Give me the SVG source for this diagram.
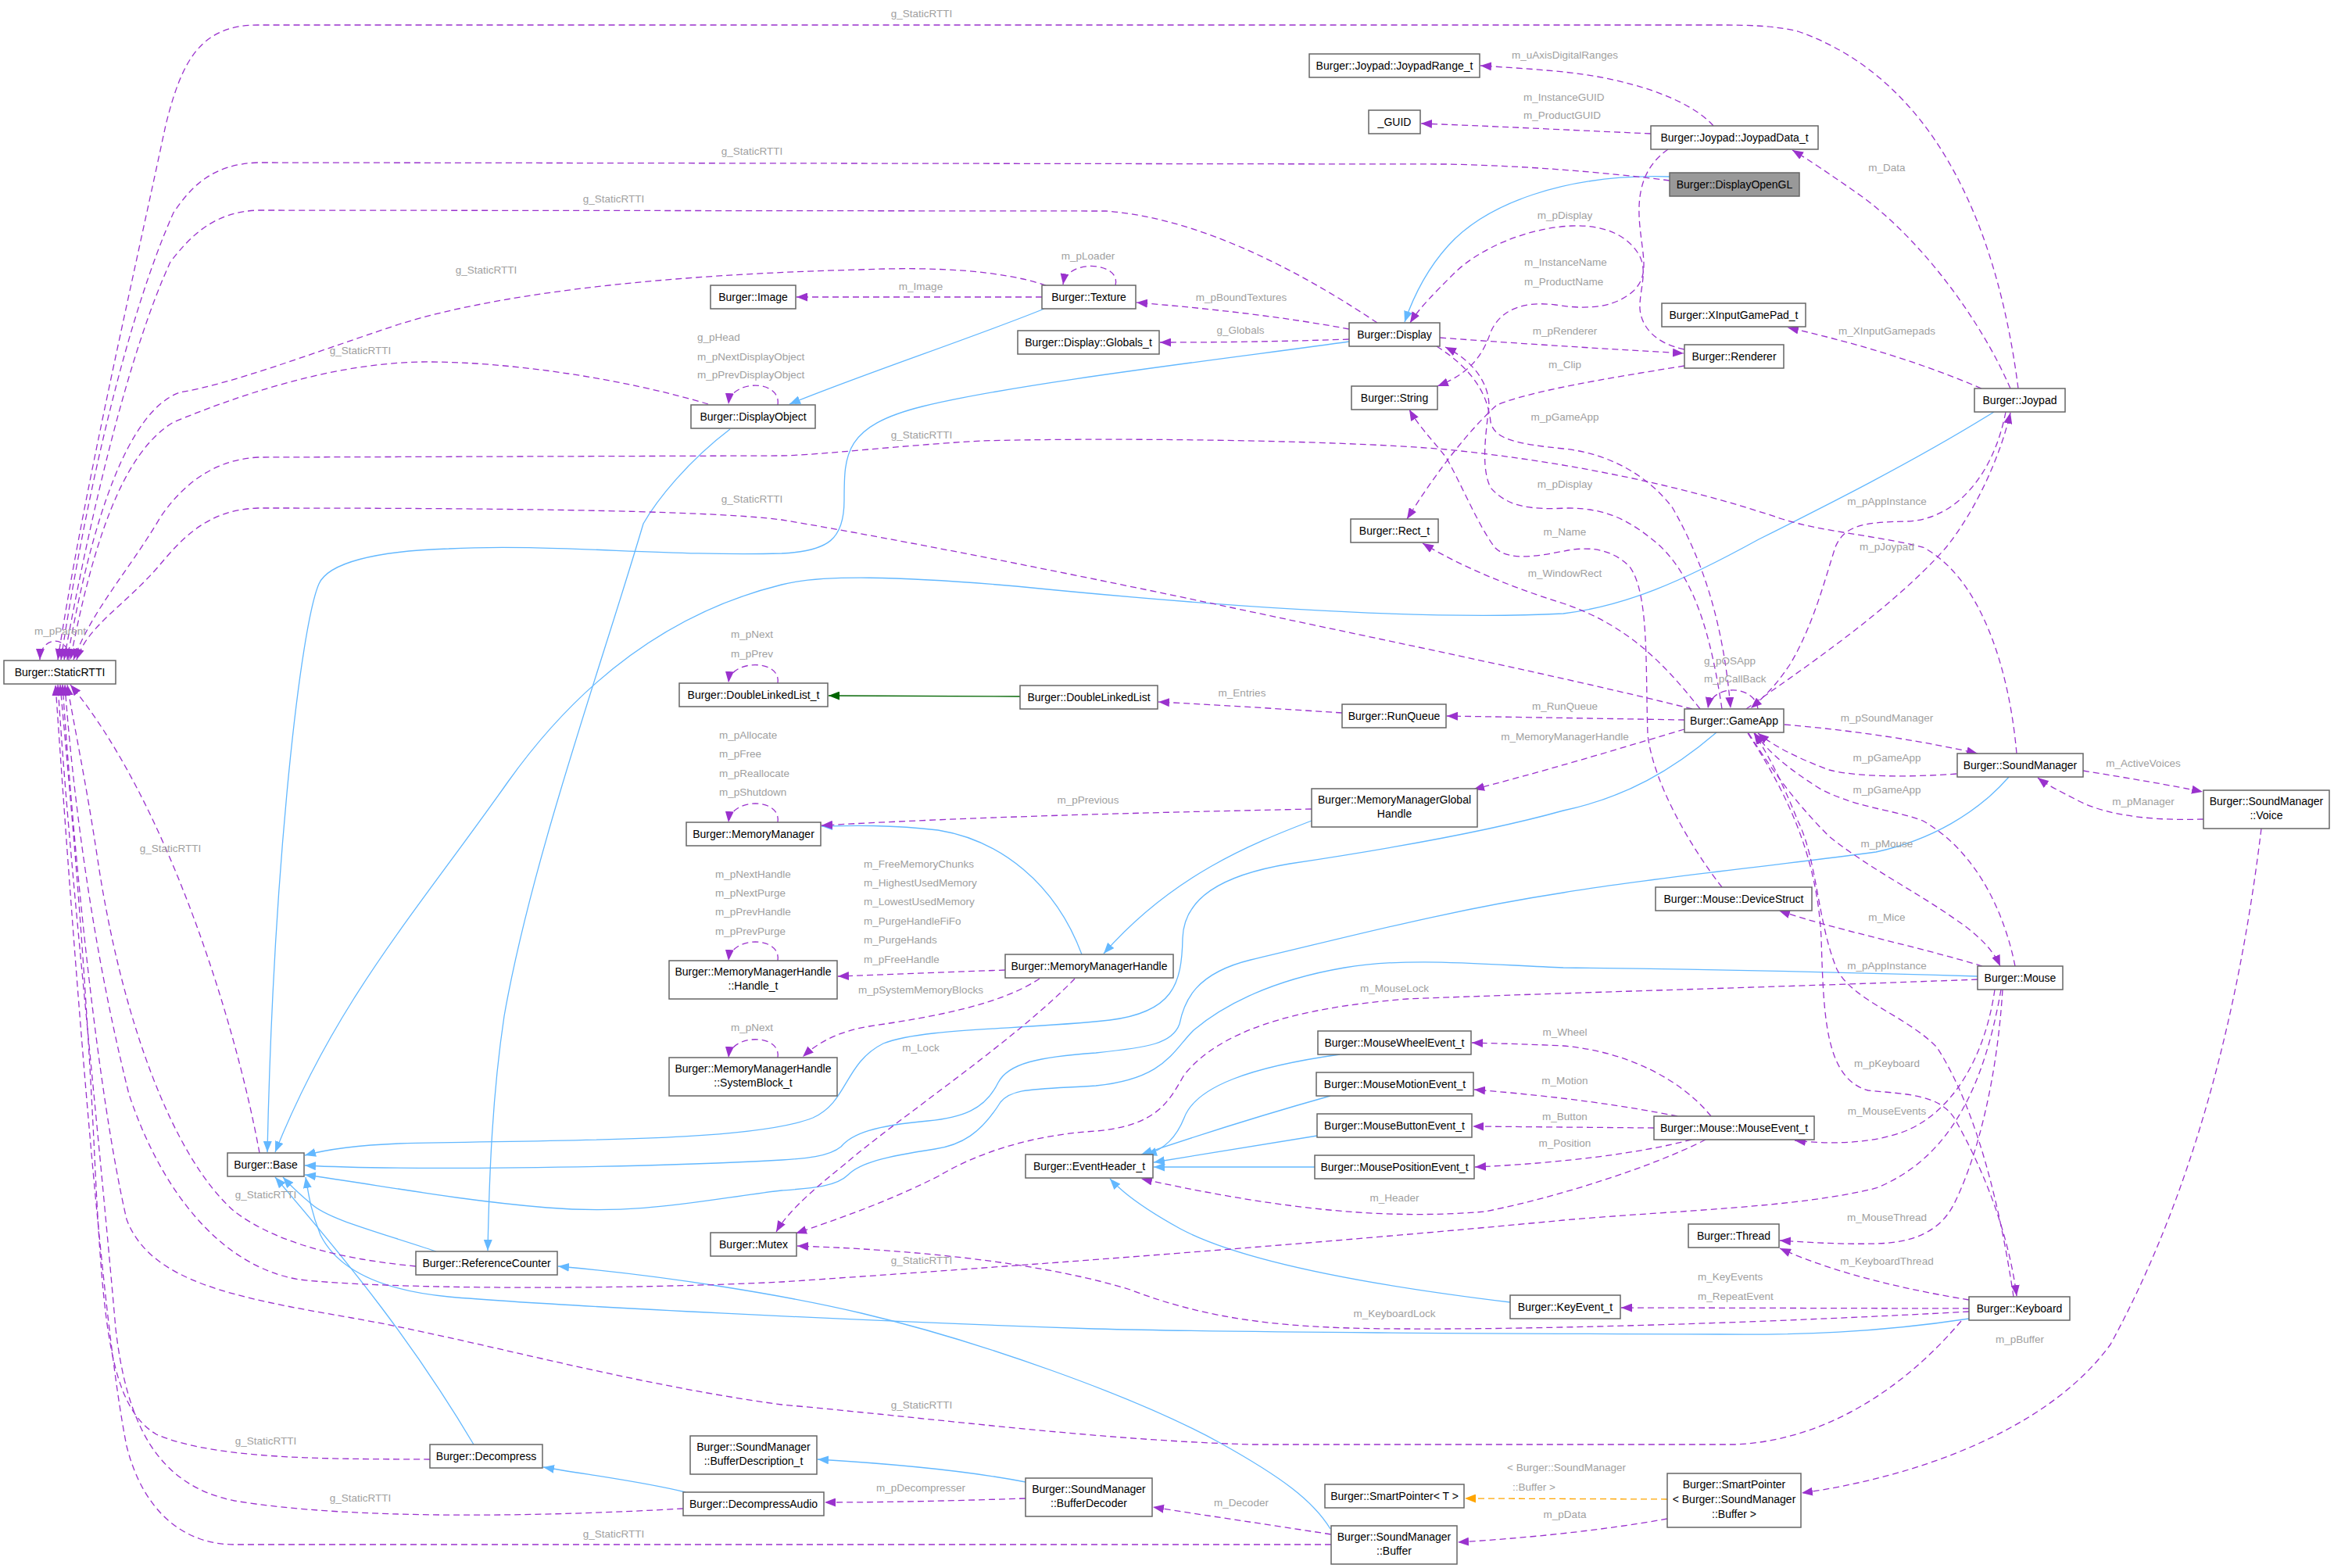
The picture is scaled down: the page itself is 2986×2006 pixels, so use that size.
<svg xmlns="http://www.w3.org/2000/svg" width="2986" height="2006" viewBox="0 0 2986 2006">
<defs>
<style>
.n rect{fill:#fff;stroke:#666;stroke-width:1.5}
.n.h rect{fill:#999}
.n text{font-family:"Liberation Sans",Arial,sans-serif;font-size:14px;fill:#000;text-anchor:middle}
.l{font-family:"Liberation Sans",Arial,sans-serif;font-size:13.5px;fill:#a0a0a0;text-anchor:middle}
.ls{font-family:"Liberation Sans",Arial,sans-serif;font-size:13.5px;fill:#a0a0a0;text-anchor:start}
.u{fill:none;stroke:#9a32cd;stroke-width:1.3;stroke-dasharray:8,5;marker-end:url(#ap)}
.i{fill:none;stroke:#63b8ff;stroke-width:1.3;marker-end:url(#ab)}
.g{fill:none;stroke:#006400;stroke-width:1.3;marker-end:url(#ag)}
.o{fill:none;stroke:#ffa500;stroke-width:1.3;stroke-dasharray:8,5;marker-end:url(#ao)}
</style>
<marker id="ap" markerWidth="15" markerHeight="11" refX="14" refY="5.5" orient="auto" markerUnits="userSpaceOnUse"><path d="M0,0 L14,5.5 L0,11 z" fill="#9a32cd"/></marker>
<marker id="ab" markerWidth="15" markerHeight="11" refX="14" refY="5.5" orient="auto" markerUnits="userSpaceOnUse"><path d="M0,0 L14,5.5 L0,11 z" fill="#63b8ff"/></marker>
<marker id="ag" markerWidth="15" markerHeight="11" refX="14" refY="5.5" orient="auto" markerUnits="userSpaceOnUse"><path d="M0,0 L14,5.5 L0,11 z" fill="#006400"/></marker>
<marker id="ao" markerWidth="15" markerHeight="11" refX="14" refY="5.5" orient="auto" markerUnits="userSpaceOnUse"><path d="M0,0 L14,5.5 L0,11 z" fill="#ffa500"/></marker>
</defs>
<rect x="0" y="0" width="2986" height="2006" fill="#fff"/>
<g id="connectors">
<!-- inheritance -->
<path class="i" d="M2136,226 C2000,222 1900,262 1853,314 C1825,345 1808,380 1797,412"/>
<path class="i" d="M1726,437 C1600,455 1300,490 1180,520 C1080,545 1080,580 1080,640 C1080,690 1060,705 1000,708 C850,712 700,695 574,702 C480,705 420,720 408,747 C385,800 350,1100 342,1474"/>
<path class="i" d="M1336,395 C1250,430 1100,480 1010,517"/>
<path class="i" d="M934,549 C880,590 840,640 823,670 C770,850 680,1100 645,1300 C630,1400 626,1500 624,1600"/>
<path class="i" d="M558,1601 C480,1575 420,1560 398,1540 C380,1525 370,1515 362,1506"/>
<path class="i" d="M606,1848 C530,1720 450,1620 352,1506"/>
<path class="i" d="M2519,1687 C2400,1705 2300,1708 2200,1707 C1900,1706 1600,1705 1400,1700 C1100,1690 700,1670 574,1659 C480,1650 430,1620 410,1580 C398,1550 395,1530 391,1506"/>
<path class="i" d="M2551,527 C2450,590 2330,650 2250,690 C2150,745 2080,775 2000,785 C1800,795 1500,770 1300,750 C1150,737 1050,735 1000,748 C870,780 750,860 650,1000 C530,1170 430,1280 352,1474"/>
<path class="i" d="M2196,937 C2140,985 2080,1020 2000,1037 C1900,1065 1750,1090 1650,1105 C1560,1120 1515,1150 1513,1200 C1512,1260 1500,1295 1420,1305 C1300,1318 1180,1315 1130,1335 C1080,1360 1085,1410 1040,1430 C960,1462 700,1458 510,1463 C460,1465 420,1470 390,1478"/>
<path class="i" d="M2570,994 C2530,1040 2470,1075 2400,1090 C2250,1110 2100,1125 2000,1142 C1850,1165 1720,1200 1600,1228 C1530,1245 1515,1280 1509,1310 C1500,1335 1470,1340 1402,1347 C1330,1352 1290,1360 1277,1385 C1260,1420 1230,1430 1187,1434 C1120,1440 1090,1450 1076,1467 C1060,1480 1030,1482 1000,1484 C800,1495 500,1497 390,1491"/>
<path class="i" d="M2530,1249 C2400,1245 2200,1240 2000,1238 C1900,1234 1800,1224 1720,1238 C1620,1255 1560,1290 1527,1318 C1500,1345 1490,1380 1402,1389 C1320,1394 1295,1392 1280,1410 C1255,1450 1230,1465 1196,1470 C1130,1480 1100,1488 1085,1503 C1070,1518 1040,1520 1000,1523 C900,1535 820,1555 700,1545 C580,1535 480,1515 390,1503"/>
<path class="i" d="M1702,1956 C1680,1920 1640,1890 1561,1846 C1450,1785 1250,1715 1102,1680 C1000,1656 850,1632 714,1620"/>
<path class="i" d="M877,1909 C820,1895 760,1888 695,1877"/>
<path class="i" d="M1312,1896 C1230,1880 1130,1872 1046,1867"/>
<path class="i" d="M1678,1050 C1600,1080 1500,1120 1412,1220"/>
<path class="i" d="M1384,1221 C1350,1130 1280,1075 1200,1062 C1140,1055 1090,1056 1051,1057"/>
<path class="i" d="M1714,1349 C1600,1365 1530,1390 1515,1430 C1505,1455 1490,1470 1466,1478"/>
<path class="i" d="M1702,1402 C1620,1425 1540,1450 1460,1477"/>
<path class="i" d="M1685,1453 L1476,1487"/>
<path class="i" d="M1682,1493 L1476,1493"/>
<path class="i" d="M1932,1666 C1800,1650 1600,1620 1510,1572 C1470,1550 1440,1530 1420,1508"/>
<path class="g" d="M1305,891 L1060,890"/>
<path class="o" d="M2133,1918 L1874,1917"/>
<!-- usage -->
<path class="u" d="M88,845 C90,812 52,812 51,844"/>
<path class="u" d="M2582,497 C2562,340 2500,110 2300,40 C2270,33 2240,32 2200,32 L330,32 C255,32 232,80 212,160 C165,380 105,640 74,844"/>
<path class="u" d="M2136,231 C2050,220 1950,212 1850,210 L330,208 C272,210 245,238 222,272 C165,400 112,620 78,844"/>
<path class="u" d="M1762,413 C1690,365 1550,280 1415,270 L330,269 C275,271 245,300 218,335 C165,450 115,660 82,844"/>
<path class="u" d="M1338,365 C1280,346 1200,341 1100,345 C900,350 660,368 510,415 C390,455 300,490 230,502 C165,525 118,660 86,844"/>
<path class="u" d="M906,517 C800,485 650,462 540,463 C420,465 300,508 222,540 C155,580 118,700 90,844"/>
<path class="u" d="M2580,964 C2570,850 2532,738 2460,700 C2400,685 2330,680 2280,664 C2150,620 2000,590 1850,575 C1700,562 1400,560 1255,564 C1150,570 1050,582 1000,583 L330,585 C272,588 232,622 205,662 C165,730 118,780 94,844"/>
<path class="u" d="M2165,907 C2000,866 1800,825 1574,777 C1400,740 1150,690 1000,665 C900,652 600,650 330,650 C265,652 232,690 205,722 C160,775 112,800 98,844"/>
<path class="u" d="M332,1475 C300,1300 210,1020 90,876"/>
<path class="u" d="M532,1620 C450,1612 360,1595 300,1550 C220,1480 155,1300 125,1100 C110,1000 95,930 86,876"/>
<path class="u" d="M2560,1266 C2540,1380 2500,1480 2400,1520 C2300,1545 2150,1548 2000,1561 C1700,1590 1300,1620 1000,1640 C800,1650 500,1650 383,1637 C280,1620 205,1520 165,1400 C115,1200 92,1000 83,876"/>
<path class="u" d="M2509,1690 C2450,1760 2350,1842 2220,1848 L1600,1848 C1400,1842 1200,1815 1000,1797 C800,1770 600,1712 450,1686 C300,1660 192,1640 162,1560 C125,1400 95,1100 80,876"/>
<path class="u" d="M550,1867 C450,1866 280,1870 200,1835 C142,1800 132,1700 122,1500 C108,1200 88,1000 77,876"/>
<path class="u" d="M874,1930 C700,1940 450,1945 300,1920 C200,1900 162,1820 148,1700 C122,1400 88,1100 74,876"/>
<path class="u" d="M1703,1976 L300,1976 C232,1976 182,1930 162,1850 C132,1700 100,1300 71,876"/>
<path class="u" d="M2192,161 C2160,125 2080,100 2000,92 C1960,88 1925,86 1894,84"/>
<path class="u" d="M2112,171 C2000,166 1900,161 1818,158"/>
<path class="u" d="M2572,497 C2530,400 2450,300 2380,250 C2340,222 2315,205 2293,192"/>
<path class="u" d="M2134,191 C2100,215 2094,250 2098,290 C2102,330 2110,352 2090,372 C2070,390 2040,398 1990,390 C1950,385 1920,395 1907,425 C1897,455 1880,478 1839,494"/>
<path class="u" d="M2155,447 C2120,440 2100,420 2098,395 C2097,370 2110,345 2095,323 C2080,300 2050,287 2010,289 C1950,292 1890,320 1860,350 C1835,375 1815,395 1804,413"/>
<path class="u" d="M1842,432 C1950,440 2050,446 2154,452"/>
<path class="u" d="M2155,468 C2050,485 1960,500 1915,518 C1880,550 1840,600 1800,664"/>
<path class="u" d="M1838,443 C1880,470 1903,500 1907,540 C1912,562 1940,568 2000,574 C2060,580 2110,610 2140,650 C2180,720 2205,800 2214,906"/>
<path class="u" d="M2203,907 C2190,820 2170,740 2121,696 C2090,670 2060,650 2006,650 C1960,652 1930,650 1907,624 C1895,600 1900,560 1905,520 C1905,490 1885,462 1849,444"/>
<path class="u" d="M2203,1135 C2160,1080 2115,1000 2108,940 C2105,850 2110,760 2085,725 C2060,700 2030,700 2006,704 C1975,710 1930,720 1912,700 C1890,670 1870,620 1850,585 C1830,560 1815,545 1803,524"/>
<path class="u" d="M2175,907 C2130,850 2083,800 2000,772 C1930,750 1870,725 1820,695"/>
<path class="u" d="M1427,365 C1435,335 1365,330 1360,364"/>
<path class="u" d="M1333,380 L1019,380"/>
<path class="u" d="M1726,421 C1640,405 1550,395 1454,387"/>
<path class="u" d="M1726,434 C1640,437 1560,438 1484,438"/>
<path class="u" d="M995,518 C1000,485 935,485 932,517"/>
<path class="u" d="M2535,497 C2460,465 2380,440 2287,419"/>
<path class="u" d="M2249,907 C2245,875 2190,875 2185,906"/>
<path class="u" d="M2234,907 C2300,860 2420,780 2490,700 C2530,650 2560,580 2572,528"/>
<path class="u" d="M2566,527 C2550,610 2500,665 2440,667 C2390,668 2360,670 2348,700 C2335,740 2320,800 2290,850 C2270,880 2255,893 2240,906"/>
<path class="u" d="M2155,921 L1851,916"/>
<path class="u" d="M1717,912 C1640,907 1560,902 1482,898"/>
<path class="u" d="M995,874 C1000,843 935,843 932,873"/>
<path class="u" d="M2155,933 C2080,955 2000,980 1885,1010"/>
<path class="u" d="M1678,1035 C1450,1040 1250,1045 1051,1056"/>
<path class="u" d="M995,1052 C1000,1020 935,1020 932,1052"/>
<path class="u" d="M1286,1241 C1200,1244 1130,1247 1072,1249"/>
<path class="u" d="M995,1229 C1000,1197 935,1197 932,1229"/>
<path class="u" d="M1330,1252 C1280,1285 1200,1300 1112,1313 C1070,1320 1045,1335 1027,1352"/>
<path class="u" d="M995,1353 C1000,1322 935,1322 932,1353"/>
<path class="u" d="M1375,1252 C1300,1330 1150,1430 1080,1490 C1030,1530 1005,1555 993,1576"/>
<path class="u" d="M2283,927 C2380,935 2470,950 2530,964"/>
<path class="u" d="M2503,990 C2450,994 2380,995 2340,985 C2300,970 2270,955 2249,938"/>
<path class="u" d="M2665,986 C2720,995 2780,1005 2818,1013"/>
<path class="u" d="M2819,1048 C2760,1050 2700,1045 2660,1025 C2635,1012 2620,1005 2607,995"/>
<path class="u" d="M2893,1060 C2870,1250 2820,1500 2700,1720 C2620,1830 2450,1890 2305,1910"/>
<path class="u" d="M2133,1943 C2050,1958 1950,1968 1865,1973"/>
<path class="u" d="M1703,1963 C1620,1950 1550,1940 1475,1928"/>
<path class="u" d="M1312,1917 C1220,1920 1140,1922 1055,1922"/>
<path class="u" d="M2237,938 C2270,990 2300,1030 2340,1070 C2390,1110 2450,1140 2500,1175 C2530,1195 2550,1215 2559,1236"/>
<path class="u" d="M2578,1236 C2565,1170 2530,1090 2460,1050 C2420,1035 2380,1035 2330,1010 C2290,985 2265,965 2245,938"/>
<path class="u" d="M2536,1236 C2450,1210 2350,1190 2276,1165"/>
<path class="u" d="M2530,1253 C2300,1262 2000,1270 1800,1278 C1650,1290 1560,1320 1515,1375 C1495,1410 1480,1440 1402,1447 C1320,1452 1250,1475 1200,1505 C1130,1540 1070,1560 1018,1578"/>
<path class="u" d="M2552,1266 C2540,1350 2500,1420 2440,1446 C2400,1462 2350,1465 2296,1459"/>
<path class="u" d="M2562,1266 C2555,1380 2530,1480 2500,1540 C2480,1580 2440,1590 2400,1591 C2360,1592 2320,1590 2277,1587"/>
<path class="u" d="M2189,1428 C2150,1380 2080,1345 2000,1338 C1960,1336 1920,1335 1883,1334"/>
<path class="u" d="M2146,1428 C2080,1415 2000,1403 1886,1394"/>
<path class="u" d="M2116,1443 L1884,1441"/>
<path class="u" d="M2164,1458 C2100,1475 2000,1488 1887,1493"/>
<path class="u" d="M2182,1458 C2120,1490 2000,1530 1900,1550 C1780,1560 1650,1550 1460,1508"/>
<path class="u" d="M2236,938 C2290,1020 2325,1100 2330,1200 C2333,1300 2335,1380 2390,1395 C2440,1400 2480,1400 2500,1430 C2540,1500 2570,1580 2580,1658"/>
<path class="u" d="M2576,1659 C2560,1550 2530,1420 2478,1340 C2440,1300 2370,1280 2350,1240 C2325,1180 2325,1100 2300,1050 C2280,1000 2262,965 2244,938"/>
<path class="u" d="M2519,1663 C2440,1650 2350,1630 2277,1597"/>
<path class="u" d="M2519,1674 L2074,1673"/>
<path class="u" d="M2519,1678 C2300,1690 2000,1701 1800,1700 C1650,1700 1550,1690 1446,1650 C1350,1620 1200,1600 1020,1594"/>
<!-- labels -->
<text class="l" x="1179" y="22">g_StaticRTTI</text>
<text class="l" x="962" y="198">g_StaticRTTI</text>
<text class="l" x="785" y="259">g_StaticRTTI</text>
<text class="l" x="622" y="350">g_StaticRTTI</text>
<text class="l" x="461" y="453">g_StaticRTTI</text>
<text class="l" x="1179" y="561">g_StaticRTTI</text>
<text class="l" x="962" y="643">g_StaticRTTI</text>
<text class="l" x="77" y="812">m_pParent</text>
<text class="l" x="218" y="1090">g_StaticRTTI</text>
<text class="l" x="340" y="1533">g_StaticRTTI</text>
<text class="l" x="1179" y="1617">g_StaticRTTI</text>
<text class="l" x="1179" y="1802">g_StaticRTTI</text>
<text class="l" x="340" y="1848">g_StaticRTTI</text>
<text class="l" x="461" y="1921">g_StaticRTTI</text>
<text class="l" x="785" y="1967">g_StaticRTTI</text>
<text class="l" x="2002" y="75">m_uAxisDigitalRanges</text>
<text class="ls" x="1949" y="129">m_InstanceGUID</text>
<text class="ls" x="1949" y="152">m_ProductGUID</text>
<text class="l" x="2414" y="219">m_Data</text>
<text class="l" x="1392" y="332">m_pLoader</text>
<text class="l" x="1178" y="371">m_Image</text>
<text class="l" x="1588" y="385">m_pBoundTextures</text>
<text class="l" x="1587" y="427">g_Globals</text>
<text class="ls" x="892" y="436">g_pHead</text>
<text class="ls" x="892" y="461">m_pNextDisplayObject</text>
<text class="ls" x="892" y="484">m_pPrevDisplayObject</text>
<text class="l" x="2002" y="280">m_pDisplay</text>
<text class="ls" x="1950" y="340">m_InstanceName</text>
<text class="ls" x="1950" y="365">m_ProductName</text>
<text class="l" x="2414" y="428">m_XInputGamepads</text>
<text class="l" x="2002" y="428">m_pRenderer</text>
<text class="l" x="2002" y="471">m_Clip</text>
<text class="l" x="2002" y="538">m_pGameApp</text>
<text class="l" x="2002" y="624">m_pDisplay</text>
<text class="l" x="2002" y="685">m_Name</text>
<text class="l" x="2002" y="738">m_WindowRect</text>
<text class="l" x="2414" y="646">m_pAppInstance</text>
<text class="l" x="2414" y="704">m_pJoypad</text>
<text class="ls" x="935" y="816">m_pNext</text>
<text class="ls" x="935" y="841">m_pPrev</text>
<text class="l" x="1589" y="891">m_Entries</text>
<text class="ls" x="2180" y="850">g_pOSApp</text>
<text class="ls" x="2180" y="873">m_pCallBack</text>
<text class="l" x="2002" y="908">m_RunQueue</text>
<text class="l" x="2002" y="947">m_MemoryManagerHandle</text>
<text class="l" x="2414" y="923">m_pSoundManager</text>
<text class="l" x="2414" y="974">m_pGameApp</text>
<text class="l" x="2742" y="981">m_ActiveVoices</text>
<text class="l" x="2414" y="1015">m_pGameApp</text>
<text class="l" x="2742" y="1030">m_pManager</text>
<text class="ls" x="920" y="945">m_pAllocate</text>
<text class="ls" x="920" y="969">m_pFree</text>
<text class="ls" x="920" y="994">m_pReallocate</text>
<text class="ls" x="920" y="1018">m_pShutdown</text>
<text class="l" x="1392" y="1028">m_pPrevious</text>
<text class="l" x="2414" y="1084">m_pMouse</text>
<text class="ls" x="1105" y="1110">m_FreeMemoryChunks</text>
<text class="ls" x="1105" y="1134">m_HighestUsedMemory</text>
<text class="ls" x="1105" y="1158">m_LowestUsedMemory</text>
<text class="ls" x="1105" y="1183">m_PurgeHandleFiFo</text>
<text class="ls" x="1105" y="1207">m_PurgeHands</text>
<text class="ls" x="1105" y="1232">m_pFreeHandle</text>
<text class="ls" x="915" y="1123">m_pNextHandle</text>
<text class="ls" x="915" y="1147">m_pNextPurge</text>
<text class="ls" x="915" y="1171">m_pPrevHandle</text>
<text class="ls" x="915" y="1196">m_pPrevPurge</text>
<text class="l" x="2414" y="1178">m_Mice</text>
<text class="l" x="2414" y="1240">m_pAppInstance</text>
<text class="l" x="1784" y="1269">m_MouseLock</text>
<text class="l" x="1178" y="1271">m_pSystemMemoryBlocks</text>
<text class="ls" x="935" y="1319">m_pNext</text>
<text class="l" x="2002" y="1325">m_Wheel</text>
<text class="l" x="1178" y="1345">m_Lock</text>
<text class="l" x="2414" y="1365">m_pKeyboard</text>
<text class="l" x="2002" y="1387">m_Motion</text>
<text class="l" x="2414" y="1426">m_MouseEvents</text>
<text class="l" x="2002" y="1433">m_Button</text>
<text class="l" x="2002" y="1467">m_Position</text>
<text class="l" x="1784" y="1537">m_Header</text>
<text class="l" x="2414" y="1562">m_MouseThread</text>
<text class="l" x="2414" y="1618">m_KeyboardThread</text>
<text class="ls" x="2172" y="1638">m_KeyEvents</text>
<text class="ls" x="2172" y="1663">m_RepeatEvent</text>
<text class="l" x="1784" y="1685">m_KeyboardLock</text>
<text class="l" x="2584" y="1718">m_pBuffer</text>
<text class="ls" x="1928" y="1882">&lt; Burger::SoundManager</text>
<text class="ls" x="1935" y="1907">::Buffer &gt;</text>
<text class="l" x="1178" y="1908">m_pDecompresser</text>
<text class="l" x="1588" y="1927">m_Decoder</text>
<text class="l" x="2002" y="1942">m_pData</text>
</g>
<g id="n-StaticRTTI" class="n"><rect x="5" y="845" width="143" height="30"/><text x="76.5" y="865">Burger::StaticRTTI</text></g>
<g id="n-JoypadRange" class="n"><rect x="1675" y="69" width="218" height="30"/><text x="1784" y="89">Burger::Joypad::JoypadRange_t</text></g>
<g id="n-GUID" class="n"><rect x="1751" y="141" width="66" height="30"/><text x="1784" y="161">_GUID</text></g>
<g id="n-JoypadData" class="n"><rect x="2112" y="161" width="214" height="30"/><text x="2219" y="181">Burger::Joypad::JoypadData_t</text></g>
<g id="n-DisplayOpenGL" class="n h"><rect x="2136" y="221" width="166" height="30"/><text x="2219" y="241">Burger::DisplayOpenGL</text></g>
<g id="n-Image" class="n"><rect x="909" y="365" width="109" height="30"/><text x="963.5" y="385">Burger::Image</text></g>
<g id="n-Texture" class="n"><rect x="1333" y="365" width="120" height="30"/><text x="1393" y="385">Burger::Texture</text></g>
<g id="n-Globals" class="n"><rect x="1302" y="423" width="181" height="30"/><text x="1392.5" y="443">Burger::Display::Globals_t</text></g>
<g id="n-Display" class="n"><rect x="1726" y="413" width="116" height="30"/><text x="1784" y="433">Burger::Display</text></g>
<g id="n-XInput" class="n"><rect x="2126" y="388" width="184" height="30"/><text x="2218" y="408">Burger::XInputGamePad_t</text></g>
<g id="n-Renderer" class="n"><rect x="2155" y="441" width="127" height="30"/><text x="2218.5" y="461">Burger::Renderer</text></g>
<g id="n-DisplayObject" class="n"><rect x="884" y="518" width="159" height="30"/><text x="963.5" y="538">Burger::DisplayObject</text></g>
<g id="n-String" class="n"><rect x="1729" y="494" width="110" height="30"/><text x="1784" y="514">Burger::String</text></g>
<g id="n-Joypad" class="n"><rect x="2526" y="497" width="116" height="30"/><text x="2584" y="517">Burger::Joypad</text></g>
<g id="n-Rect" class="n"><rect x="1728" y="664" width="112" height="30"/><text x="1784" y="684">Burger::Rect_t</text></g>
<g id="n-DLLt" class="n"><rect x="869" y="874" width="190" height="30"/><text x="964" y="894">Burger::DoubleLinkedList_t</text></g>
<g id="n-DLL" class="n"><rect x="1305" y="877" width="176" height="30"/><text x="1393" y="897">Burger::DoubleLinkedList</text></g>
<g id="n-RunQueue" class="n"><rect x="1717" y="901" width="133" height="30"/><text x="1783.5" y="921">Burger::RunQueue</text></g>
<g id="n-GameApp" class="n"><rect x="2155" y="907" width="127" height="30"/><text x="2218.5" y="927">Burger::GameApp</text></g>
<g id="n-SoundManager" class="n"><rect x="2504" y="964" width="161" height="30"/><text x="2584.5" y="984">Burger::SoundManager</text></g>
<g id="n-Voice" class="n"><rect x="2819" y="1011" width="161" height="49"/><text x="2899.5" y="1029.5">Burger::SoundManager</text><text x="2899.5" y="1048">::Voice</text></g>
<g id="n-MemoryManager" class="n"><rect x="878" y="1052" width="172" height="30"/><text x="964" y="1072">Burger::MemoryManager</text></g>
<g id="n-MMGH" class="n"><rect x="1678" y="1009" width="212" height="49"/><text x="1784" y="1027.5">Burger::MemoryManagerGlobal</text><text x="1784" y="1046">Handle</text></g>
<g id="n-DeviceStruct" class="n"><rect x="2118" y="1135" width="200" height="30"/><text x="2218" y="1155">Burger::Mouse::DeviceStruct</text></g>
<g id="n-Handle" class="n"><rect x="856" y="1229" width="215" height="49"/><text x="963.5" y="1247.5">Burger::MemoryManagerHandle</text><text x="963.5" y="1266">::Handle_t</text></g>
<g id="n-MMH" class="n"><rect x="1286" y="1221" width="215" height="30"/><text x="1393.5" y="1241">Burger::MemoryManagerHandle</text></g>
<g id="n-Mouse" class="n"><rect x="2530" y="1236" width="109" height="30"/><text x="2584.5" y="1256">Burger::Mouse</text></g>
<g id="n-MouseWheel" class="n"><rect x="1686" y="1319" width="196" height="30"/><text x="1784" y="1339">Burger::MouseWheelEvent_t</text></g>
<g id="n-SystemBlock" class="n"><rect x="856" y="1353" width="215" height="49"/><text x="963.5" y="1371.5">Burger::MemoryManagerHandle</text><text x="963.5" y="1390">::SystemBlock_t</text></g>
<g id="n-MouseMotion" class="n"><rect x="1684" y="1372" width="201" height="30"/><text x="1784.5" y="1392">Burger::MouseMotionEvent_t</text></g>
<g id="n-MouseEvent" class="n"><rect x="2116" y="1428" width="205" height="30"/><text x="2218.5" y="1448">Burger::Mouse::MouseEvent_t</text></g>
<g id="n-MouseButton" class="n"><rect x="1685" y="1425" width="198" height="30"/><text x="1784" y="1445">Burger::MouseButtonEvent_t</text></g>
<g id="n-Base" class="n"><rect x="291" y="1475" width="98" height="30"/><text x="340" y="1495">Burger::Base</text></g>
<g id="n-EventHeader" class="n"><rect x="1312" y="1477" width="163" height="30"/><text x="1393.5" y="1497">Burger::EventHeader_t</text></g>
<g id="n-MousePosition" class="n"><rect x="1682" y="1478" width="204" height="30"/><text x="1784" y="1498">Burger::MousePositionEvent_t</text></g>
<g id="n-Thread" class="n"><rect x="2160" y="1566" width="116" height="30"/><text x="2218" y="1586">Burger::Thread</text></g>
<g id="n-Mutex" class="n"><rect x="909" y="1577" width="110" height="30"/><text x="964" y="1597">Burger::Mutex</text></g>
<g id="n-ReferenceCounter" class="n"><rect x="532" y="1601" width="181" height="30"/><text x="622.5" y="1621">Burger::ReferenceCounter</text></g>
<g id="n-KeyEvent" class="n"><rect x="1932" y="1657" width="141" height="30"/><text x="2002.5" y="1677">Burger::KeyEvent_t</text></g>
<g id="n-Keyboard" class="n"><rect x="2519" y="1659" width="129" height="30"/><text x="2583.5" y="1679">Burger::Keyboard</text></g>
<g id="n-BufferDescription" class="n"><rect x="883" y="1837" width="162" height="49"/><text x="964" y="1855.5">Burger::SoundManager</text><text x="964" y="1874">::BufferDescription_t</text></g>
<g id="n-Decompress" class="n"><rect x="550" y="1848" width="144" height="30"/><text x="622" y="1868">Burger::Decompress</text></g>
<g id="n-BufferDecoder" class="n"><rect x="1312" y="1891" width="162" height="49"/><text x="1393" y="1909.5">Burger::SoundManager</text><text x="1393" y="1928">::BufferDecoder</text></g>
<g id="n-SmartPointerT" class="n"><rect x="1695" y="1899" width="178" height="30"/><text x="1784" y="1919">Burger::SmartPointer&lt; T &gt;</text></g>
<g id="n-SmartPointerBuffer" class="n"><rect x="2133" y="1885" width="171" height="69"/><text x="2218.5" y="1903.5">Burger::SmartPointer</text><text x="2218.5" y="1922.5">&lt; Burger::SoundManager</text><text x="2218.5" y="1941.5">::Buffer &gt;</text></g>
<g id="n-DecompressAudio" class="n"><rect x="874" y="1909" width="180" height="30"/><text x="964" y="1929">Burger::DecompressAudio</text></g>
<g id="n-Buffer" class="n"><rect x="1703" y="1952" width="161" height="49"/><text x="1783.5" y="1970.5">Burger::SoundManager</text><text x="1783.5" y="1989">::Buffer</text></g>
</svg>
